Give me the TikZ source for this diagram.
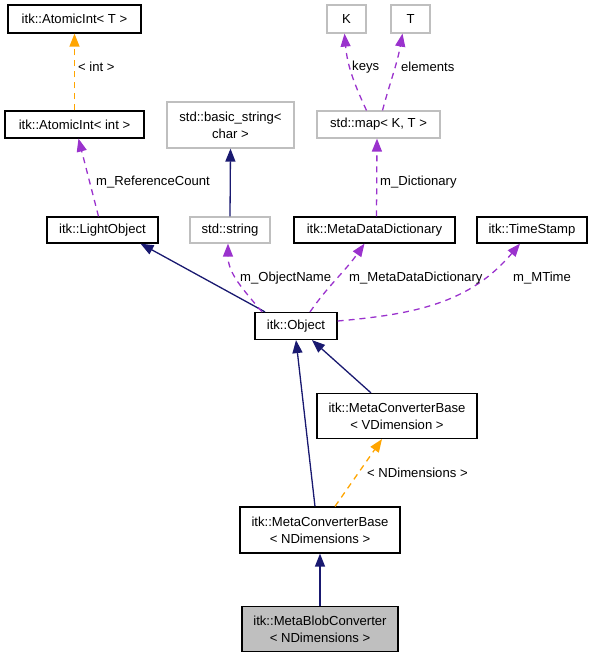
\documentclass[tikz,border=0pt]{standalone}
\usepackage{fontspec}
\setmainfont{Liberation Sans}
\usetikzlibrary{arrows.meta,calc}
\definecolor{inherit edge}{HTML}{191970}
\definecolor{member edge}{HTML}{9A32CD}
\definecolor{template edge}{HTML}{FFA500}
\colorlet{plain edge}{black!25}
\tikzset{cls/.style={draw=black, line width=1.2, fill=white, inner sep=0, align=center},
	ext/.style={draw=plain edge, line width=1.2, fill=white, inner sep=0, align=center},
	cur/.style={draw=black, line width=1.2, fill=black!25, inner sep=0, align=center},
	lbl/.style={anchor=west, inner sep=0},
	tip/.style={-{Triangle[length=13pt,width=10pt]}, line width=1.3},
	inherit/.style={tip, draw=inherit edge},
	member/.style={tip, draw=member edge, dash pattern=on 6pt off 5pt},
	templ/.style={tip, draw=template edge, dash pattern=on 6pt off 5pt}}

\begin{document}
\begin{tikzpicture}[x=1pt, y=-1pt, font=\fontsize{13.1}{17}\selectfont]
		\useasboundingbox (0,0) rectangle (593,659);
		
		\node[cls, minimum width=133, minimum height=28] (at) at (74.5,19) {itk::AtomicInt< T >};
		\node[cls, minimum width=139, minimum height=27] (ai) at (74.5,124.5) {itk::AtomicInt< int >};
		\node[cls, minimum width=111, minimum height=26] (lo) at (102.5,230) {itk::LightObject};
		\node[ext, minimum width=127, minimum height=46] (bs) at (230.5,125) {std::basic\_string<\\char >};
		\node[ext, minimum width=80, minimum height=26] (ss) at (230,230) {std::string};
		\node[ext, minimum width=39, minimum height=28] (kk) at (346.5,19) {K};
		\node[ext, minimum width=39, minimum height=28] (tt) at (410.5,19) {T};
		\node[ext, minimum width=123, minimum height=27] (mp) at (378.5,124.5) {std::map< K, T >};
		\node[cls, minimum width=161, minimum height=26] (mdd) at (374.5,230) {itk::MetaDataDictionary};
		\node[cls, minimum width=110, minimum height=26] (ts) at (532,230) {itk::TimeStamp};
		\node[cls, minimum width=82, minimum height=27] (ob) at (296,326) {itk::Object};
		\node[cls, minimum width=160, minimum height=45] (vd) at (397,416) {itk::MetaConverterBase\\< VDimension >};
		\node[cls, minimum width=160, minimum height=46] (nd) at (320,530) {itk::MetaConverterBase\\< NDimensions >};
		\node[cur, minimum width=156, minimum height=45] (mb) at (320,629) {itk::MetaBlobConverter\\< NDimensions >};
		
		\draw[templ] (ai.north) -- (at.south);
		\draw[member] ($(lo.north)+(-4,0)$) -- ($(ai.south)+(4,0)$);
		\draw[inherit] (ss.north) -- (bs.south);
		\draw[member] ($(mp.north)+(-12,0)$) to[out=115, in=-85] ($(kk.south)+(-2,0)$);
		\draw[member] ($(mp.north)+(4,0)$) to[out=75, in=-100] ($(tt.south)+(-8,0)$);
		\draw[member] ($(mdd.north)+(2,0)$) -- ($(mp.south)+(-1.5,0)$);
		\draw[inherit] ($(ob.north)+(-31,0)$) -- ($(lo.south)+(38,0)$);
		\draw[member] ($(ob.north)+(-34,0)$) to[out=130, in=-90] ($(ss.south)+(-2,0)$);
		\draw[member] ($(ob.north)+(14,0)$) to[out=55, in=-125] ($(mdd.south)+(-10,0)$);
		\draw[member] ($(ob.east)+(0,-5)$) to[out=5, in=-130] ($(ts.south)+(-12,0)$);
		\draw[inherit] ($(vd.north)+(-26,0)$) -- ($(ob.south)+(16,0)$);
		\draw[inherit] ($(nd.north)+(-5,0)$) -- (ob.south);
		\draw[templ] ($(nd.north)+(15,0)$) -- ($(vd.south)+(-15,0)$);
		\draw[inherit] (mb.north) -- (nd.south);
		
		\node[lbl] (l-int) at (78,67) {< int >};
		\node[lbl] (l-ref) at (96,182) {m\_ReferenceCount};
		\node[lbl] (l-keys) at (352,67) {keys};
		\node[lbl] (l-elem) at (401,67) {elements};
		\node[lbl] (l-dict) at (380,182) {m\_Dictionary};
		\node[lbl] (l-name) at (240,278) {m\_ObjectName};
		\node[lbl] (l-mdd) at (349,278) {m\_MetaDataDictionary};
		\node[lbl] (l-time) at (513,278) {m\_MTime};
		\node[lbl] (l-ndim) at (367,473) {< NDimensions >};
		
\end{tikzpicture}
\end{document}
